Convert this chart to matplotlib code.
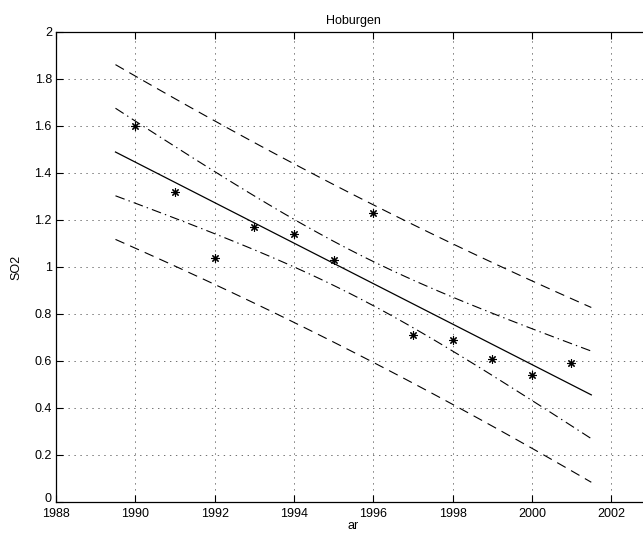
import numpy as np
import matplotlib
matplotlib.use('Agg')
import matplotlib.pyplot as plt
import matplotlib.transforms as mtransforms

# mätdata Hoburgen
ar = np.array([1990, 1991, 1992, 1993, 1994, 1995, 1996, 1997, 1998, 1999, 2000, 2001])
so2 = np.array([1.60, 1.32, 1.04, 1.17, 1.14, 1.03, 1.23, 0.71, 0.69, 0.61, 0.54, 0.59])
t_975 = 2.228  # t(0.975, 10 frihetsgrader)

plt.rcParams['font.family'] = ['Liberation Sans', 'DejaVu Sans']
plt.rcParams['font.size'] = 9
plt.rcParams['lines.scale_dashes'] = False

# linjär regression + konfidens-/prediktionsintervall
n = len(ar)
k, m = np.polyfit(ar, so2, 1)
res = so2 - (k * ar + m)
s = np.sqrt(np.sum(res ** 2) / (n - 2))
sxx = np.sum((ar - ar.mean()) ** 2)
xx = np.linspace(ar.min() - 0.5, ar.max() + 0.5, 60)
yy = k * xx + m
ci = t_975 * s * np.sqrt(1.0 / n + (xx - ar.mean()) ** 2 / sxx)
pi = t_975 * s * np.sqrt(1 + 1.0 / n + (xx - ar.mean()) ** 2 / sxx)

fig = plt.figure(figsize=(6.43, 5.33), dpi=100)
ax = fig.add_axes([0.0871, 0.0582, 0.925, 0.8818])

dots = (0, (1, 3.3))
ax.grid(True, color='0.35', linestyle=dots, linewidth=0.6)
ax.set_axisbelow(True)

ax.plot(xx, yy, 'k-', linewidth=0.9)
ax.plot(xx, yy + ci, color='k', linewidth=0.8, dashes=(7, 3, 1, 3))
ax.plot(xx, yy - ci, color='k', linewidth=0.8, dashes=(7, 3, 1, 3))
ax.plot(xx, yy + pi, color='k', linewidth=0.8, dashes=(7, 4.5))
ax.plot(xx, yy - pi, color='k', linewidth=0.8, dashes=(7, 4.5))
ax.plot(ar, so2, linestyle='none', marker=(8, 2, 0), color='k',
        markersize=6, markeredgewidth=0.8)

ax.set_xlim(1988, 2003)
ax.set_ylim(0, 2)
ax.set_xticks(np.arange(1988, 2003, 2))
ax.set_yticks(np.arange(0, 2.01, 0.2))
ax.set_yticklabels(['0', '0.2', '0.4', '0.6', '0.8', '1', '1.2', '1.4', '1.6', '1.8', '2'])
ax.tick_params(direction='in', top=True, right=True, length=5, width=0.8, pad=3)
ax.tick_params(axis='x', pad=4)
for sp in ax.spines.values():
    sp.set_linewidth(0.9)

# flytta "0" lite uppåt så den inte krockar med 1988
lbl0 = ax.get_yticklabels()[0]
lbl0.set_transform(lbl0.get_transform() + mtransforms.ScaledTranslation(0, 3 / 72, fig.dpi_scale_trans))

ax.set_title('Hoburgen', fontsize=9, pad=6)
ax.set_xlabel('ar', labelpad=0)
ax.set_ylabel('SO2', labelpad=9)

fig.savefig('out.png', dpi=100)
